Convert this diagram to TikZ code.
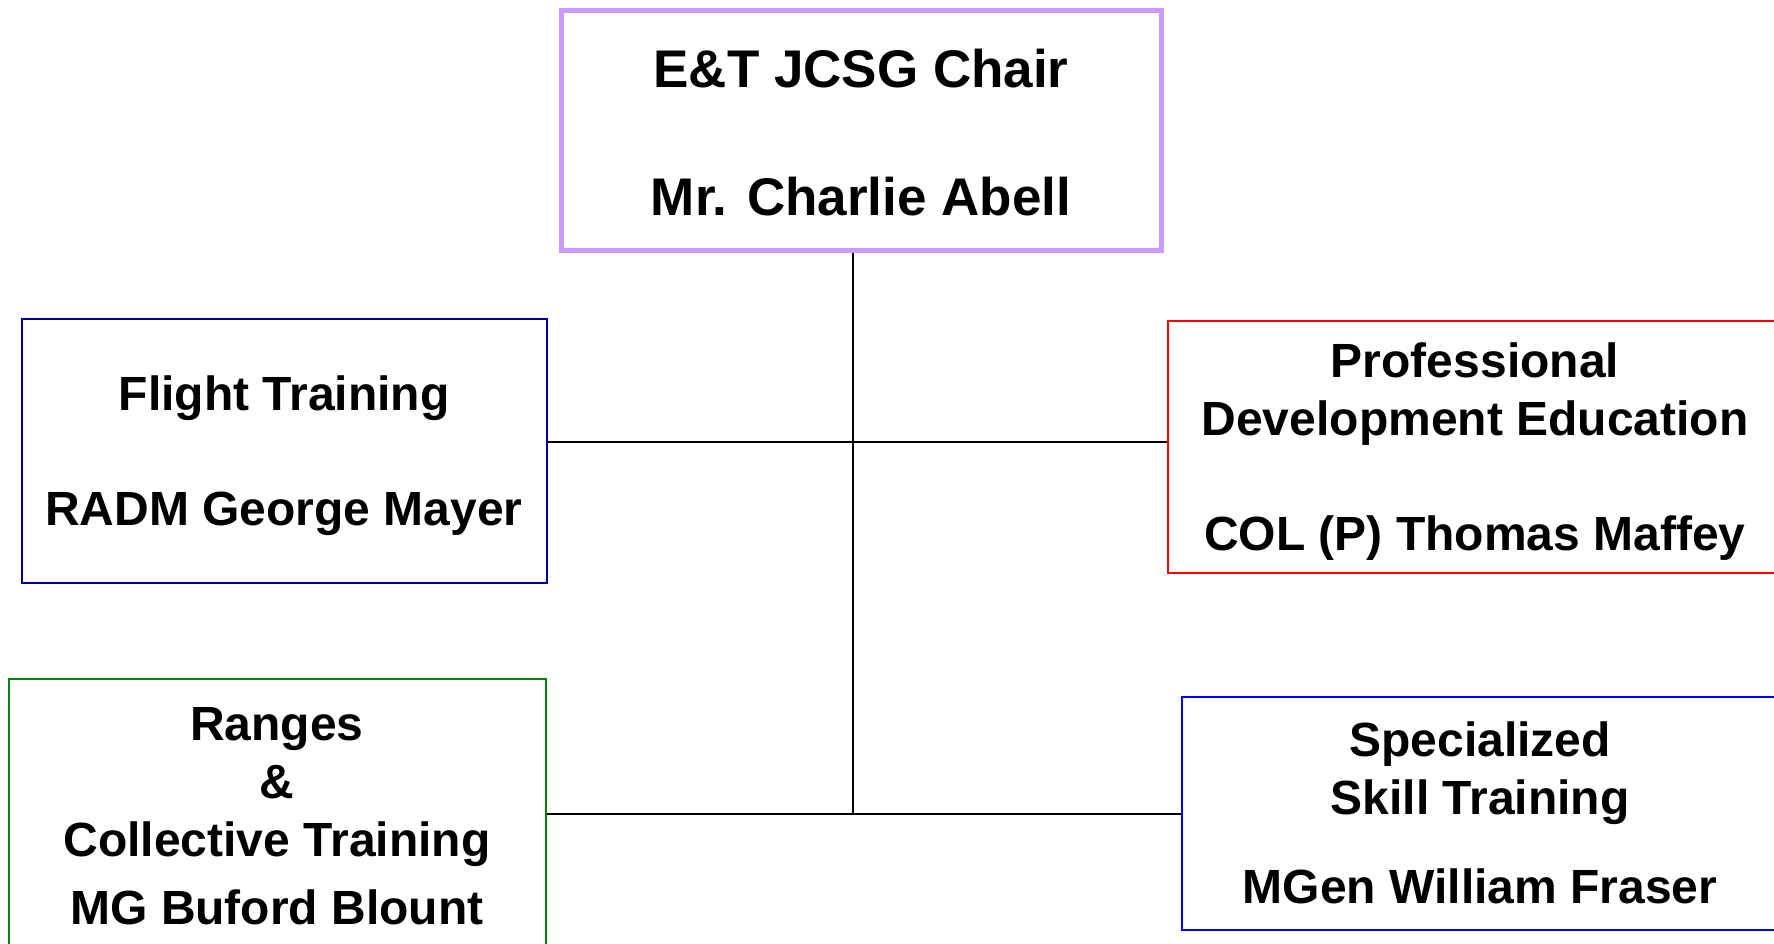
\documentclass[tikz,border=0pt]{standalone}
\usepackage{fontspec}
\setmainfont{Liberation Sans}
\definecolor{chairpurple}{HTML}{CC99FF}
\definecolor{flightblue}{HTML}{000099}
\definecolor{rangegreen}{HTML}{008000}
\newcommand{\lowstrut}[1]{\rule{0pt}{#1}}
\tikzset{box/.style={draw,line width=2pt,inner sep=0pt,align=center,font=\bfseries\fontsize{48}{58}\selectfont},
  link/.style={line width=1.6pt}}

\begin{document}
\begin{tikzpicture}[x=1pt,y=-1pt]
\useasboundingbox (0,0) rectangle (1774,943);
\clip (0,0) rectangle (1774,943);
% chair
\node[box,draw=chairpurple,line width=5pt,minimum width=600pt,minimum height=240pt,font=\bfseries\fontsize{53}{64}\selectfont] (chair) at (861,130) {\lowstrut{43pt}E\&T JCSG Chair\\[64pt]Mr. Charlie Abell};
% sub groups
\node[box,draw=flightblue,minimum width=525pt,minimum height=264pt] (flight) at (284,451) {\lowstrut{44pt}Flight Training\\[57pt]RADM George Mayer};
\node[box,draw=red,minimum width=614pt,minimum height=252pt] (prof) at (1475,447) {\lowstrut{44pt}Professional\\Development Education\\[57pt]COL (P) Thomas Maffey};
\node[box,draw=rangegreen,minimum width=537pt,minimum height=275pt] (ranges) at (277,816) {Ranges\\\&\\Collective Training\\[10pt]MG Buford Blount};
\node[box,draw=blue,minimum width=596pt,minimum height=233pt] (skill) at (1480,813) {Specialized\\Skill Training\\[31pt]MGen William Fraser};
% lines
\coordinate (upper) at (853,442);
\coordinate (lower) at (853,814);
\draw[link] (chair.south -| lower) -- (lower);
\draw[link] (flight.east |- upper) -- (prof.west |- upper);
\draw[link] (ranges.east |- lower) -- (skill.west |- lower);
\end{tikzpicture}
\end{document}
